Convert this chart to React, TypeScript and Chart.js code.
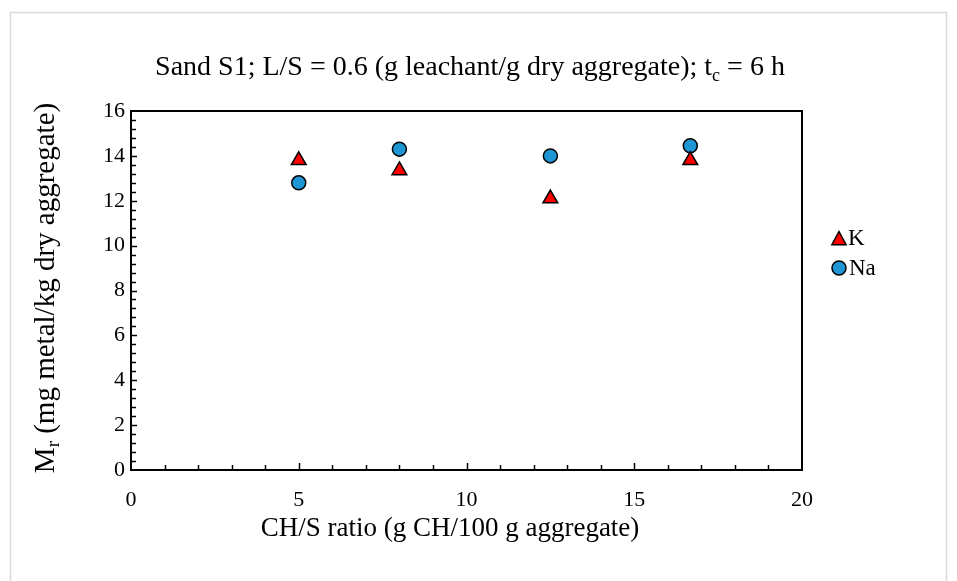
import React, { useEffect, useRef } from "react";
import { Chart, registerables } from "chart.js";

Chart.register(...registerables);

// ---- data ----
const chRatio = [5, 8, 12.5, 16.67];
const kValues = [13.8, 13.35, 12.1, 13.8];
const naValues = [12.8, 14.3, 14.0, 14.45];
const seriesNames = ["K", "Na"];
const xRange = [0, 20];
const yRange = [0, 16];
const xStep = 5;
const yStep = 2;
const xMinorStep = 1;
const yMinorStep = 0.4;

const titleParts = ["Sand S1; L/S = 0.6 (g leachant/g dry aggregate); t", "c", " = 6 h"];
const yTitleParts = ["M", "r", " (mg metal/kg dry aggregate)"];
const xTitle = "CH/S ratio (g CH/100 g aggregate)";

const FONT = "'Liberation Serif', 'Times New Roman', serif";
const K_COLOR = "#FF0000";
const NA_COLOR = "#1E96D3";

function drawSubText(ctx: CanvasRenderingContext2D, parts: string[], cx: number, cy: number, size: number) {
  ctx.font = `${size}px ${FONT}`;
  const w0 = ctx.measureText(parts[0]).width;
  const w2 = ctx.measureText(parts[2]).width;
  ctx.font = `${Math.round(size * 0.65)}px ${FONT}`;
  const w1 = ctx.measureText(parts[1]).width;
  const total = w0 + w1 + w2;
  let x = cx - total / 2;
  ctx.textBaseline = "alphabetic";
  ctx.textAlign = "left";
  ctx.fillStyle = "#000";
  const base = cy + size * 0.33;
  ctx.font = `${size}px ${FONT}`;
  ctx.fillText(parts[0], x, base);
  x += w0;
  ctx.font = `${Math.round(size * 0.65)}px ${FONT}`;
  ctx.fillText(parts[1], x, base + size * 0.2);
  x += w1;
  ctx.font = `${size}px ${FONT}`;
  ctx.fillText(parts[2], x, base);
}

function drawTriangle(ctx: CanvasRenderingContext2D, x: number, y: number, r: number) {
  ctx.beginPath();
  ctx.moveTo(x, y - r);
  ctx.lineTo(x + r * 0.95, y + r * 0.75);
  ctx.lineTo(x - r * 0.95, y + r * 0.75);
  ctx.closePath();
  ctx.fillStyle = K_COLOR;
  ctx.fill();
  ctx.lineWidth = 1.5;
  ctx.strokeStyle = "#000";
  ctx.stroke();
}

function drawCircle(ctx: CanvasRenderingContext2D, x: number, y: number, r: number) {
  ctx.beginPath();
  ctx.arc(x, y, r, 0, Math.PI * 2);
  ctx.fillStyle = NA_COLOR;
  ctx.fill();
  ctx.lineWidth = 1.5;
  ctx.strokeStyle = "#000";
  ctx.stroke();
}

const decorPlugin = {
  id: "decor",
  beforeDraw(chart: any) {
    const ctx = chart.ctx;
    ctx.save();
    ctx.fillStyle = "#fff";
    ctx.fillRect(0, 0, chart.width, chart.height);
    ctx.strokeStyle = "#d9d9d9";
    ctx.lineWidth = 1.5;
    ctx.strokeRect(10.5, 12.5, 936, 620);
    ctx.restore();
  },
  afterDraw(chart: any) {
    const ctx = chart.ctx;
    const a = chart.chartArea;
    const xs = chart.scales.x;
    const ys = chart.scales.y;
    ctx.save();
    ctx.strokeStyle = "#000";
    // ticks
    ctx.lineWidth = 1.5;
    const ny = Math.round((yRange[1] - yRange[0]) / yMinorStep);
    for (let i = 1; i < ny; i++) {
      const v = yRange[0] + i * yMinorStep;
      const py = Math.round(ys.getPixelForValue(v)) + 0.5;
      const major = i % Math.round(yStep / yMinorStep) === 0;
      ctx.beginPath();
      ctx.moveTo(a.left, py);
      ctx.lineTo(a.left + (major ? 6 : 5), py);
      ctx.stroke();
    }
    const nx = Math.round((xRange[1] - xRange[0]) / xMinorStep);
    for (let i = 1; i < nx; i++) {
      const v = xRange[0] + i * xMinorStep;
      const px = Math.round(xs.getPixelForValue(v)) + 0.5;
      const major = i % Math.round(xStep / xMinorStep) === 0;
      ctx.beginPath();
      ctx.moveTo(px, a.bottom);
      ctx.lineTo(px, a.bottom - (major ? 7 : 5));
      ctx.stroke();
    }
    // box
    ctx.lineWidth = 2;
    ctx.strokeRect(a.left, a.top, a.right - a.left, a.bottom - a.top);

    // titles
    drawSubText(ctx, titleParts, 470, 66, 28);
    ctx.font = `27px ${FONT}`;
    ctx.fillStyle = "#000";
    ctx.textAlign = "center";
    ctx.textBaseline = "middle";
    ctx.fillText(xTitle, 450, 529);
    ctx.save();
    ctx.translate(44, 288);
    ctx.rotate(-Math.PI / 2);
    drawSubText(ctx, yTitleParts, 0, 0, 29);
    ctx.restore();

    // legend
    drawTriangle(ctx, 839, 239, 7.5);
    drawCircle(ctx, 839, 268, 7);
    ctx.font = `23px ${FONT}`;
    ctx.fillStyle = "#000";
    ctx.textAlign = "left";
    ctx.textBaseline = "middle";
    ctx.fillText(seriesNames[0], 848, 239);
    ctx.fillText(seriesNames[1], 849, 269);
    ctx.restore();
  },
};

export default function App() {
  const ref = useRef<HTMLCanvasElement | null>(null);
  useEffect(() => {
    if (!ref.current) return;
    const chart = new Chart(ref.current, {
      type: "scatter",
      data: {
        datasets: [
          {
            label: seriesNames[0],
            data: chRatio.map((x, i) => ({ x, y: kValues[i] })),
            pointStyle: "triangle",
            pointRadius: 8.5,
            pointHoverRadius: 8.5,
            backgroundColor: K_COLOR,
            borderColor: "#000",
            borderWidth: 1.5,
          },
          {
            label: seriesNames[1],
            data: chRatio.map((x, i) => ({ x, y: naValues[i] })),
            pointStyle: "circle",
            pointRadius: 7,
            pointHoverRadius: 7,
            backgroundColor: NA_COLOR,
            borderColor: "#000",
            borderWidth: 1.5,
          },
        ],
      },
      options: {
        responsive: false,
        animation: false,
        devicePixelRatio: 1,
        layout: { padding: { left: 0, top: 111, right: 155, bottom: 0 } },
        plugins: { legend: { display: false }, title: { display: false }, tooltip: { enabled: false } },
        scales: {
          x: {
            type: "linear",
            min: xRange[0],
            max: xRange[1],
            ticks: { stepSize: xStep, color: "#000", font: { family: FONT, size: 22 }, padding: 17 },
            grid: { display: false, drawTicks: false },
            border: { display: false },
            afterFit: (s: any) => { s.height = 111; },
          },
          y: {
            min: yRange[0],
            max: yRange[1],
            ticks: { stepSize: yStep, color: "#000", font: { family: FONT, size: 22 }, padding: 6 },
            grid: { display: false, drawTicks: false },
            border: { display: false },
            afterFit: (s: any) => { s.width = 131; },
          },
        },
      },
      plugins: [decorPlugin],
    } as any);
    return () => chart.destroy();
  }, []);
  return (
    <div style={{ position: "absolute", left: 0, top: 0, width: 957, height: 581, overflow: "hidden" }}>
      <canvas ref={ref} width={957} height={581} style={{ display: "block" }} />
    </div>
  );
}
